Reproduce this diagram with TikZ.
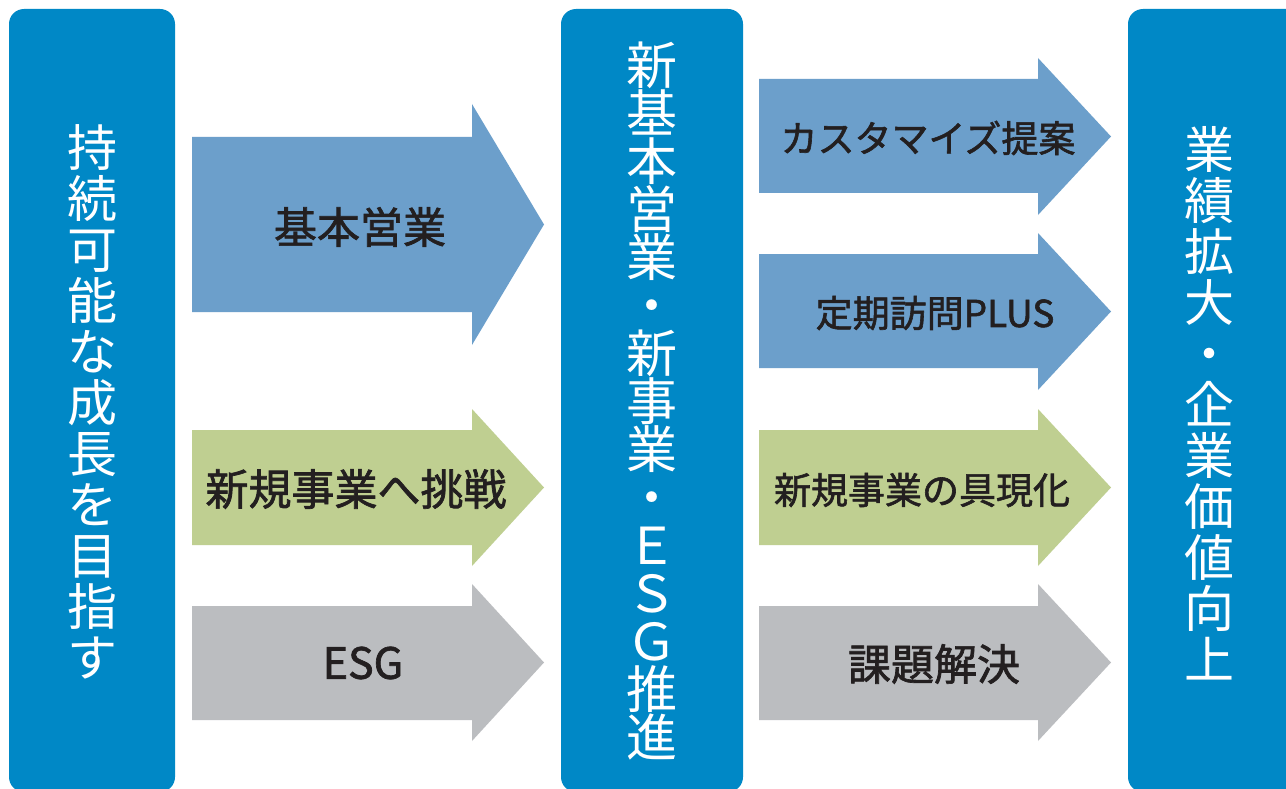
\documentclass[tikz,border=0pt]{standalone}
\usepackage{fontspec}
\setmainfont{Noto Sans CJK JP}
\newfontfamily\medjp[FakeBold=1.6]{Noto Sans CJK JP}
\definecolor{boxblue}{RGB}{0,136,198}
\definecolor{arrblue}{RGB}{108,159,203}
\definecolor{arrgreen}{RGB}{191,207,145}
\definecolor{arrgray}{RGB}{187,189,192}
\definecolor{txtdark}{RGB}{35,31,32}
\begin{document}
\begin{tikzpicture}[x=1pt,y=-1pt,
  pillar/.style={fill=boxblue, rounded corners=15pt},
  vtext/.style={text=white, align=center, inner sep=0pt, font=\fontsize{50}{51}\selectfont},
  lab/.style={text=txtdark, inner sep=0pt, font=\medjp\fontsize{43}{43}\selectfont},
  rlab/.style={text=txtdark, inner sep=0pt, font=\medjp\fontsize{37}{37}\selectfont}]
\useasboundingbox (0,0) rectangle (1286,789);
\fill[white] (0,0) rectangle (1286,789);

% pillars
\fill[pillar] (9,9) rectangle (175,792);
\fill[pillar] (561,9) rectangle (743,792);
\fill[pillar] (1128,9) rectangle (1310,792);

% left arrows
\fill[arrblue]  (192,137) -- (472,137) -- (472,104) -- (544,224.5) -- (472,345) -- (472,312) -- (192,312) -- cycle;
\fill[arrgreen] (192,430) -- (472,430) -- (472,409) -- (544,487.5) -- (472,566) -- (472,545) -- (192,545) -- cycle;
\fill[arrgray]  (192,606) -- (472,606) -- (472,584) -- (544,662.5) -- (472,741) -- (472,720) -- (192,720) -- cycle;

% right arrows
\fill[arrblue]  (759,79)  -- (1038,79)  -- (1038,58)  -- (1111,136.5) -- (1038,215) -- (1038,193) -- (759,193) -- cycle;
\fill[arrblue]  (759,254) -- (1038,254) -- (1038,233) -- (1111,311.5) -- (1038,390) -- (1038,368) -- (759,368) -- cycle;
\fill[arrgreen] (759,430) -- (1038,430) -- (1038,409) -- (1111,487.5) -- (1038,566) -- (1038,545) -- (759,545) -- cycle;
\fill[arrgray]  (759,606) -- (1038,606) -- (1038,584) -- (1111,662.5) -- (1038,741) -- (1038,720) -- (759,720) -- cycle;

% vertical texts
\node[vtext] (goal) at (92,402) {持\\続\\可\\能\\な\\成\\長\\を\\目\\指\\す};
\node[vtext, font=\fontsize{51}{48}\selectfont] (mid) at (652,401) {新\\基\\本\\営\\業\\・\\新\\事\\業\\・\\Ｅ\\Ｓ\\Ｇ\\推\\進};
\node[vtext] (result) at (1209,403) {業\\績\\拡\\大\\・\\企\\業\\価\\値\\向\\上};

% arrow labels
\node[lab] (kihon) at (360,227) {基本営業};
\node[lab] (shinki) at (356,489) {新規事業へ挑戦};
\node[lab] (esg) at (363,663) {ESG};
\node[rlab] (custom) at (928,138) {カスタマイズ提案};
\node[rlab] (teiki) at (935,313) {定期訪問PLUS};
\node[rlab] (gugen) at (922,490) {新規事業の具現化};
\node[lab] (kadai) at (934,664) {課題解決};
\end{tikzpicture}
\end{document}
